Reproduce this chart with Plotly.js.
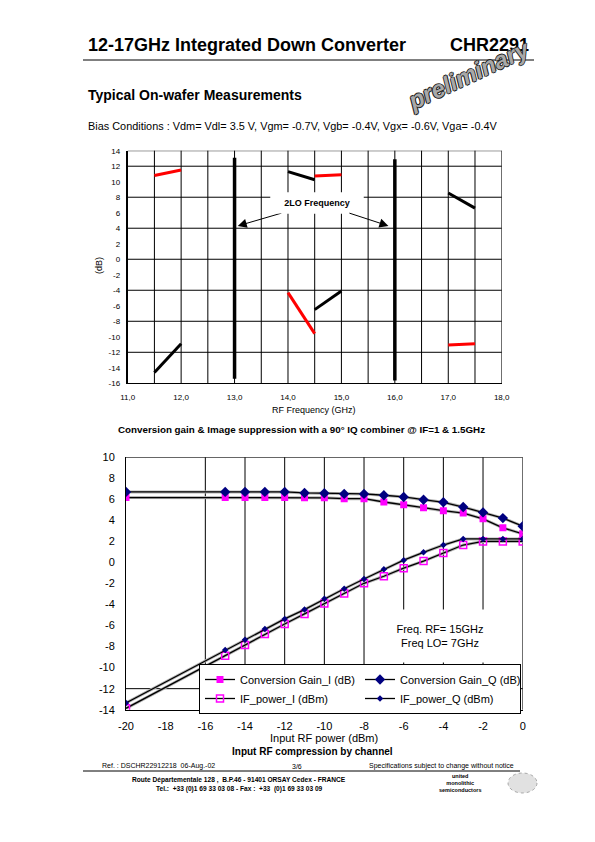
<!DOCTYPE html>
<html>
<head>
<meta charset="utf-8">
<script src="https://cdn.plot.ly/plotly-3.0.1.min.js"></script>
<style>
html,body{margin:0;padding:0;background:#fff;}
#chart{width:595px;height:842px;}
</style>
</head>
<body>
<div id="chart"></div>
<script>
// ---------- Top chart data (RF frequency sweep) ----------
const topXTickVals = [11, 12, 13, 14, 15, 16, 17, 18];
const topXTickText = ['11,0', '12,0', '13,0', '14,0', '15,0', '16,0', '17,0', '18,0'];
const topYTickVals = [-16, -14, -12, -10, -8, -6, -4, -2, 0, 2, 4, 6, 8, 10, 12, 14];
const topYTickText = ['-16', '-14', '-12', '-10', '-8', '-6', '-4', '-2', '0', '2', '4', '6', '8', '10', '12', '14'];
const topGridX = [11.5, 12, 12.5, 13, 13.5, 14, 14.5, 15, 15.5, 16, 16.5, 17, 17.5, 18];
const topGridY = [-12, -8, -4, 0, 4, 8, 12, 14];

const redSegX = [11.5, 12.0, null, 14.0, 14.5, null, 14.5, 15.0, null, 17.0, 17.5];
const redSegY = [10.8, 11.5, null, -4.3, -9.6, null, 10.75, 10.9, null, -11.05, -10.9];
const blackSegX = [11.5, 12.0, null, 14.0, 14.5, null, 14.5, 15.0, null, 17.0, 17.5];
const blackSegY = [-14.6, -10.9, null, 11.3, 10.25, null, -6.5, -4.1, null, 8.55, 6.6];
const loMarkX = [13.0, 13.0, null, 16.0, 16.0];
const loMarkY = [13.1, -15.4, null, 12.9, -15.65];

// ---------- Bottom chart data (input RF compression) ----------
const pinDbm = [-20, -15, -14, -13, -12, -11, -10, -9, -8, -7, -6, -5, -4, -3, -2, -1, 0];
const gainI = [6.17, 6.17, 6.17, 6.17, 6.17, 6.15, 6.15, 6.07, 6.07, 5.75, 5.5, 5.21, 4.92, 4.7, 4.15, 3.29, 2.72];
const gainQ = [6.71, 6.71, 6.71, 6.71, 6.71, 6.61, 6.58, 6.52, 6.52, 6.39, 6.23, 5.97, 5.72, 5.27, 4.76, 4.22, 3.45];
const ifPowerI = [-13.87, -8.87, -7.85, -6.8, -5.85, -4.89, -3.9, -2.94, -1.98, -1.31, -0.54, 0.13, 0.9, 1.66, 2.0, 2.0, 2.0];
const ifPowerQ = [-13.36, -8.33, -7.34, -6.32, -5.37, -4.48, -3.46, -2.5, -1.57, -0.64, 0.22, 0.96, 1.66, 2.24, 2.24, 2.24, 2.24];
const botXTickVals = [-20, -18, -16, -14, -12, -10, -8, -6, -4, -2, 0];
const botXTickText = ['-20', '-18', '-16', '-14', '-12', '-10', '-8', '-6', '-4', '-2', '0'];
const botYTickVals = [-14, -12, -10, -8, -6, -4, -2, 0, 2, 4, 6, 8, 10];
const botYTickText = ['-14', '-12', '-10', '-8', '-6', '-4', '-2', '0', '2', '4', '6', '8', '10'];
const botGridX = [-16, -14, -12, -10, -8, -6, -4, -2, 0];
const botGridY = [-12, 10];

// ---------- page geometry helpers ----------
const PAGE_W = 595, PAGE_H = 842, ML = 126, MR = 72;
const PW = PAGE_W - ML - MR;
const fx = px => (px - ML) / PW;
const fy = py => 1 - py / PAGE_H;
const FONT = 'Liberation Sans, Arial, Helvetica, sans-serif';

function series(x, y, name, marker) {
  return {x: x, y: y, xaxis: 'x2', yaxis: 'y2', mode: 'lines+markers', name: name,
          line: {color: '#000000', width: 1.3}, marker: marker, hoverinfo: 'skip'};
}
function shadow(x, y) {
  return {x: x, y: y, xaxis: 'x2', yaxis: 'y2', mode: 'lines', line: {color: '#b4b4b4', width: 3},
          showlegend: false, hoverinfo: 'skip'};
}

const traces = [
  {x: redSegX, y: redSegY, xaxis: 'x', yaxis: 'y', mode: 'lines', line: {color: '#ff0000', width: 3}, showlegend: false, hoverinfo: 'skip'},
  {x: blackSegX, y: blackSegY, xaxis: 'x', yaxis: 'y', mode: 'lines', line: {color: '#000000', width: 3}, showlegend: false, hoverinfo: 'skip'},
  {x: loMarkX, y: loMarkY, xaxis: 'x', yaxis: 'y', mode: 'lines', line: {color: '#000000', width: 3.5}, showlegend: false, hoverinfo: 'skip'},
  shadow(pinDbm, gainI), shadow(pinDbm, gainQ), shadow(pinDbm, ifPowerI), shadow(pinDbm, ifPowerQ),
  series(pinDbm, gainI, 'Conversion Gain_I (dB)', {symbol: 'square', size: 7, color: '#ff00ff'}),
  series(pinDbm, gainQ, 'Conversion Gain_Q (dB)', {symbol: 'diamond', size: 8, color: '#000080'}),
  series(pinDbm, ifPowerI, 'IF_power_I (dBm)', {symbol: 'square-open', size: 7, color: '#ff00ff', line: {width: 1.5, color: '#ff00ff'}}),
  series(pinDbm, ifPowerQ, 'IF_power_Q (dBm)', {symbol: 'diamond', size: 5, color: '#000080'})
];

const shapes = [];
topGridX.forEach(v => shapes.push({type: 'line', layer: 'below', xref: 'x', yref: 'y domain', x0: v, x1: v, y0: 0, y1: 1, line: {color: '#000', width: 1}}));
topGridY.forEach(v => shapes.push({type: 'line', layer: 'below', xref: 'x domain', yref: 'y', x0: 0, x1: 1, y0: v, y1: v, line: {color: '#000', width: 1}}));
botGridX.forEach(v => shapes.push({type: 'line', layer: 'below', xref: 'x2', yref: 'y2 domain', x0: v, x1: v, y0: 0, y1: 1, line: {color: '#000', width: 1}}));
botGridY.forEach(v => shapes.push({type: 'line', layer: 'below', xref: 'x2 domain', yref: 'y2', x0: 0, x1: 1, y0: v, y1: v, line: {color: '#000', width: 1}}));
// header and footer rules
shapes.push({type: 'line', xref: 'paper', yref: 'paper', x0: fx(83), x1: fx(534), y0: fy(60), y1: fy(60), line: {color: '#000', width: 1}});
shapes.push({type: 'line', xref: 'paper', yref: 'paper', x0: fx(83), x1: fx(520), y0: fy(771), y1: fy(771), line: {color: '#000', width: 1}});
// logo globe (decorative)
shapes.push({type: 'circle', xref: 'paper', yref: 'paper', x0: fx(508), x1: fx(537), y0: fy(793), y1: fy(773), fillcolor: 'rgba(170,170,170,0.35)', line: {color: 'rgba(120,120,120,0.6)', width: 1, dash: 'dot'}});

function txt(text, px, py, size, opts) {
  opts = opts || {};
  return Object.assign({
    text: text, xref: 'paper', yref: 'paper', x: fx(px), y: fy(py),
    xanchor: 'left', yanchor: 'middle', showarrow: false,
    font: {family: FONT, size: size, color: '#000', weight: opts.bold ? 'bold' : 'normal'}
  }, opts.extra || {});
}

const annotations = [
  txt('12-17GHz Integrated Down Converter', 86, 45, 18, {bold: true}),
  txt('CHR2291', 531, 45, 18, {bold: true, extra: {xanchor: 'right'}}),
  {text: 'preliminary', xref: 'paper', yref: 'paper', x: fx(469), y: fy(75), xanchor: 'center', yanchor: 'middle',
   showarrow: false, textangle: -25,
   font: {family: 'Liberation Sans Narrow, ' + FONT, size: 24, color: '#a8a8a8', weight: 'bold', style: 'italic',
          shadow: '1px 0 0 #222, -1px 0 0 #222, 0 1px 0 #222, 0 -1px 0 #222'}},
  txt('Typical On-wafer Measurements', 86, 95, 14, {bold: true}),
  txt('Bias Conditions : Vdm= Vdl= 3.5 V, Vgm= -0.7V, Vgb= -0.4V, Vgx= -0.6V, Vga= -0.4V', 86, 126, 10.9),
  txt('RF Frequency (GHz)', 314, 410, 9, {extra: {xanchor: 'center'}}),
  {text: '(dB)', xref: 'paper', yref: 'paper', x: fx(99), y: fy(266), xanchor: 'center', yanchor: 'middle',
   showarrow: false, textangle: -90, font: {family: FONT, size: 9, color: '#000'}},
  txt('Conversion gain &amp; Image suppression with a 90° IQ combiner @ IF=1 &amp; 1.5GHz', 301, 429, 9.8, {bold: true, extra: {xanchor: 'center'}}),
  // 2LO frequency callout (two arrows sharing one label)
  {text: '<b>2LO Frequency</b>', xref: 'x', yref: 'y', axref: 'x', ayref: 'y', x: 13.06, y: 4.3, ax: 14.55, ay: 7.3,
   showarrow: true, arrowhead: 2, arrowsize: 1.8, arrowwidth: 1, arrowcolor: '#000', bgcolor: '#fff', width: 90, height: 18,
   font: {family: FONT, size: 9, color: '#000'}},
  {text: '<b>2LO Frequency</b>', xref: 'x', yref: 'y', axref: 'x', ayref: 'y', x: 15.88, y: 4.3, ax: 14.55, ay: 7.3,
   showarrow: true, arrowhead: 2, arrowsize: 1.8, arrowwidth: 1, arrowcolor: '#000', bgcolor: '#fff', width: 90, height: 18,
   font: {family: FONT, size: 9, color: '#000'}},
  {text: 'Freq. RF= 15GHz<br>Freq LO= 7GHz', xref: 'x2', yref: 'y2', x: -4.15, y: -7.0, showarrow: false,
   xanchor: 'center', yanchor: 'middle', bgcolor: '#fff', width: 112, height: 50, font: {family: FONT, size: 11, color: '#000'}},
  txt('Input RF power (dBm)', 324, 738, 11, {extra: {xanchor: 'center'}}),
  txt('Input RF compression by channel', 312, 751, 10, {bold: true, extra: {xanchor: 'center'}}),
  // footer
  txt('Ref. : DSCHR22912218  06-Aug.-02', 100, 766, 7),
  txt('3/6', 297, 766, 7, {extra: {xanchor: 'center'}}),
  txt('Specifications subject to change without notice', 516, 766, 7, {extra: {xanchor: 'right'}}),
  txt('Route Départementale 128 ,  B.P.46 - 91401 ORSAY Cedex - FRANCE', 239, 780, 6.6, {bold: true, extra: {xanchor: 'center'}}),
  txt('Tel.:  +33 (0)1 69 33 03 08 - Fax :  +33  (0)1 69 33 03 09', 239, 789, 6.6, {bold: true, extra: {xanchor: 'center'}}),
  txt('united<br>monolithic<br>semiconductors', 460, 782.5, 5.5, {bold: true, extra: {xanchor: 'center', align: 'center'}})
];

const axisFontTop = {family: FONT, size: 8, color: '#000'};
const axisFontBot = {family: FONT, size: 11, color: '#000'};

const layout = {
  width: PAGE_W, height: PAGE_H,
  margin: {l: ML, r: MR, t: 0, b: 0, pad: 0},
  paper_bgcolor: '#fff', plot_bgcolor: '#fff',
  font: {family: FONT, color: '#000'},
  xaxis: {domain: [fx(127.7), fx(501.7)], anchor: 'y', range: [11, 18], tickvals: topXTickVals, ticktext: topXTickText,
          showgrid: false, zeroline: false, showline: true, linecolor: '#000', linewidth: 1, ticks: '',
          ticklabelstandoff: 6, tickfont: axisFontTop, fixedrange: true},
  yaxis: {domain: [fy(383.3), fy(150.7)], anchor: 'x', range: [-16, 14], tickvals: topYTickVals, ticktext: topYTickText,
          showgrid: false, zeroline: false, showline: true, linecolor: '#000', linewidth: 2, ticks: '',
          ticklabelstandoff: 4, tickfont: axisFontTop, fixedrange: true},
  xaxis2: {domain: [fx(126), fx(522.7)], anchor: 'y2', range: [-20, 0], tickvals: botXTickVals, ticktext: botXTickText,
           showgrid: false, zeroline: false, showline: true, linecolor: '#000', linewidth: 1, ticks: '',
           ticklabelstandoff: 6, tickfont: axisFontBot, fixedrange: true},
  yaxis2: {domain: [fy(709.7), fy(457.3)], anchor: 'x2', range: [-14, 10], tickvals: botYTickVals, ticktext: botYTickText,
           showgrid: false, zeroline: false, showline: true, linecolor: '#000', linewidth: 1, ticks: '',
           ticklabelstandoff: 8, tickfont: axisFontBot, fixedrange: true},
  legend: {orientation: 'h', x: fx(199), y: fy(664), xanchor: 'left', yanchor: 'top', xref: 'paper', yref: 'paper',
           bgcolor: '#fff', bordercolor: '#000', borderwidth: 1, entrywidth: 115, entrywidthmode: 'pixels',
           font: {family: FONT, size: 11, color: '#000'}, tracegroupgap: 0, itemclick: false, itemdoubleclick: false},
  shapes: shapes,
  annotations: annotations,
  showlegend: true
};

Plotly.newPlot('chart', traces, layout, {staticPlot: true, displayModeBar: false});
</script>
</body>
</html>
